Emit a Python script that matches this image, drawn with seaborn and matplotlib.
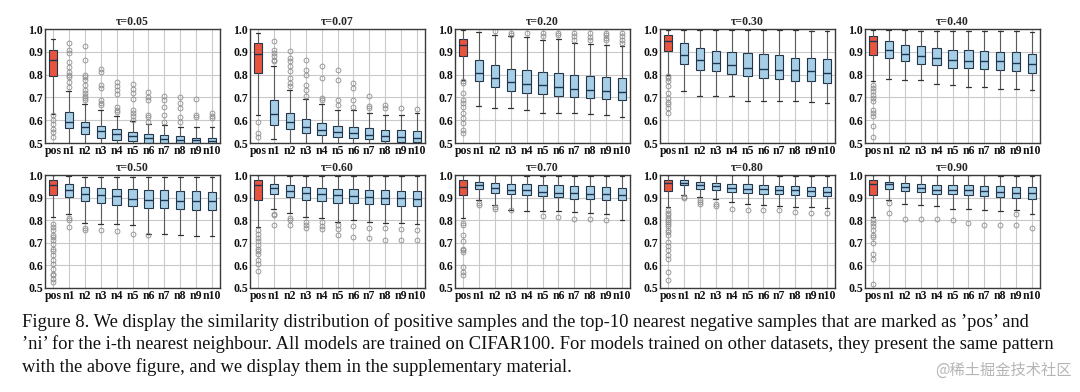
import matplotlib
matplotlib.use("Agg")
import matplotlib.pyplot as plt
import seaborn as sns

TAUS = ['0.05', '0.07', '0.20', '0.30', '0.40', '0.50', '0.60', '0.70', '0.80', '0.90']
LABELS = ['pos', 'n1', 'n2', 'n3', 'n4', 'n5', 'n6', 'n7', 'n8', 'n9', 'n10']

# per tau: one value per box (pos, n1 .. n10)
Q1 = [
    [0.794, 0.566, 0.538, 0.524, 0.515, 0.509, 0.501, 0.500, 0.498, 0.495, 0.493],
    [0.809, 0.579, 0.560, 0.542, 0.535, 0.525, 0.522, 0.516, 0.510, 0.506, 0.506],
    [0.883, 0.770, 0.745, 0.729, 0.718, 0.713, 0.704, 0.700, 0.696, 0.692, 0.688],
    [0.902, 0.846, 0.821, 0.814, 0.804, 0.795, 0.784, 0.780, 0.774, 0.771, 0.765],
    [0.887, 0.872, 0.858, 0.846, 0.840, 0.831, 0.828, 0.824, 0.818, 0.814, 0.809],
    [0.910, 0.903, 0.883, 0.876, 0.869, 0.863, 0.855, 0.853, 0.848, 0.847, 0.844],
    [0.888, 0.917, 0.903, 0.891, 0.885, 0.876, 0.876, 0.873, 0.870, 0.864, 0.863],
    [0.910, 0.937, 0.920, 0.914, 0.910, 0.906, 0.903, 0.895, 0.892, 0.891, 0.888],
    [0.928, 0.954, 0.940, 0.932, 0.925, 0.920, 0.917, 0.914, 0.912, 0.907, 0.906],
    [0.910, 0.940, 0.928, 0.925, 0.917, 0.914, 0.910, 0.906, 0.903, 0.900, 0.895],
]
MED = [
    [0.863, 0.590, 0.568, 0.553, 0.541, 0.529, 0.524, 0.519, 0.515, 0.512, 0.507],
    [0.891, 0.628, 0.591, 0.569, 0.557, 0.550, 0.543, 0.535, 0.531, 0.528, 0.521],
    [0.931, 0.809, 0.787, 0.767, 0.760, 0.754, 0.745, 0.739, 0.733, 0.730, 0.724],
    [0.946, 0.887, 0.862, 0.850, 0.842, 0.831, 0.824, 0.821, 0.818, 0.814, 0.809],
    [0.946, 0.909, 0.891, 0.880, 0.875, 0.865, 0.861, 0.861, 0.858, 0.850, 0.848],
    [0.957, 0.932, 0.917, 0.910, 0.906, 0.895, 0.891, 0.888, 0.885, 0.885, 0.883],
    [0.954, 0.942, 0.928, 0.920, 0.914, 0.910, 0.907, 0.903, 0.900, 0.897, 0.894],
    [0.947, 0.957, 0.942, 0.935, 0.932, 0.925, 0.922, 0.920, 0.917, 0.914, 0.910],
    [0.965, 0.966, 0.957, 0.950, 0.944, 0.940, 0.937, 0.935, 0.932, 0.929, 0.925],
    [0.962, 0.959, 0.947, 0.942, 0.935, 0.935, 0.932, 0.927, 0.925, 0.922, 0.922],
]
Q3 = [
    [0.909, 0.634, 0.590, 0.574, 0.560, 0.547, 0.541, 0.534, 0.529, 0.524, 0.521],
    [0.938, 0.689, 0.630, 0.606, 0.589, 0.575, 0.569, 0.566, 0.558, 0.555, 0.553],
    [0.956, 0.865, 0.840, 0.826, 0.818, 0.811, 0.808, 0.800, 0.795, 0.789, 0.784],
    [0.972, 0.938, 0.916, 0.902, 0.897, 0.894, 0.890, 0.884, 0.875, 0.872, 0.868],
    [0.971, 0.946, 0.931, 0.924, 0.916, 0.909, 0.906, 0.902, 0.899, 0.897, 0.891],
    [0.976, 0.960, 0.947, 0.944, 0.940, 0.937, 0.935, 0.932, 0.929, 0.928, 0.925],
    [0.979, 0.962, 0.954, 0.947, 0.942, 0.940, 0.937, 0.935, 0.932, 0.929, 0.928],
    [0.976, 0.969, 0.965, 0.962, 0.959, 0.957, 0.954, 0.951, 0.950, 0.947, 0.944],
    [0.979, 0.979, 0.969, 0.965, 0.959, 0.959, 0.954, 0.951, 0.951, 0.947, 0.947],
    [0.979, 0.969, 0.965, 0.962, 0.957, 0.957, 0.954, 0.951, 0.950, 0.947, 0.947],
]
WLO = [
    [0.629, 0.470, 0.470, 0.470, 0.470, 0.470, 0.470, 0.470, 0.470, 0.470, 0.470],
    [0.623, 0.516, 0.490, 0.480, 0.480, 0.480, 0.480, 0.480, 0.480, 0.480, 0.480],
    [0.775, 0.663, 0.652, 0.652, 0.645, 0.633, 0.630, 0.630, 0.626, 0.623, 0.616],
    [0.800, 0.726, 0.707, 0.704, 0.704, 0.686, 0.683, 0.683, 0.683, 0.679, 0.675],
    [0.773, 0.782, 0.777, 0.777, 0.760, 0.754, 0.745, 0.745, 0.736, 0.736, 0.733],
    [0.814, 0.829, 0.789, 0.785, 0.785, 0.777, 0.740, 0.737, 0.733, 0.730, 0.729],
    [0.770, 0.851, 0.832, 0.814, 0.811, 0.792, 0.800, 0.792, 0.788, 0.789, 0.785],
    [0.811, 0.888, 0.866, 0.844, 0.841, 0.841, 0.839, 0.836, 0.832, 0.826, 0.802],
    [0.858, 0.913, 0.903, 0.892, 0.881, 0.870, 0.866, 0.863, 0.858, 0.858, 0.854],
    [0.814, 0.891, 0.873, 0.866, 0.861, 0.851, 0.851, 0.847, 0.841, 0.844, 0.829],
]
WHI = [
    [0.956, 0.729, 0.670, 0.644, 0.619, 0.597, 0.585, 0.578, 0.571, 0.569, 0.569],
    [0.982, 0.836, 0.733, 0.692, 0.672, 0.645, 0.645, 0.633, 0.623, 0.623, 0.630],
    [0.994, 0.987, 0.975, 0.968, 0.965, 0.953, 0.956, 0.938, 0.935, 0.931, 0.927],
    [0.994, 0.994, 0.994, 0.994, 0.994, 0.994, 0.994, 0.994, 0.994, 0.993, 0.993],
    [0.994, 0.994, 0.994, 0.993, 0.993, 0.992, 0.991, 0.990, 0.990, 0.990, 0.988],
    [0.999, 0.994, 0.993, 0.993, 0.993, 0.992, 0.992, 0.991, 0.991, 0.990, 0.990],
    [0.999, 0.998, 0.997, 0.997, 0.996, 0.996, 0.996, 0.995, 0.995, 0.995, 0.994],
    [0.999, 0.998, 0.998, 0.998, 0.997, 0.997, 0.997, 0.997, 0.996, 0.996, 0.996],
    [0.999, 0.999, 0.998, 0.998, 0.998, 0.998, 0.998, 0.997, 0.997, 0.997, 0.997],
    [0.999, 0.999, 0.998, 0.998, 0.998, 0.998, 0.998, 0.998, 0.997, 0.997, 0.997],
]
FLIERS = [
    [[0.622, 0.600, 0.585, 0.563, 0.549, 0.527],
     [0.938, 0.909, 0.894, 0.857, 0.835, 0.813, 0.799, 0.788, 0.769, 0.747],
     [0.924, 0.865, 0.800, 0.788, 0.776, 0.754, 0.732, 0.718, 0.706, 0.697, 0.688],
     [0.825, 0.813, 0.754, 0.740, 0.688, 0.674, 0.666],
     [0.769, 0.750, 0.732, 0.713, 0.660, 0.644, 0.637],
     [0.759, 0.735, 0.718, 0.693, 0.644, 0.632, 0.618, 0.600],
     [0.725, 0.703, 0.688, 0.625, 0.612, 0.593],
     [0.706, 0.688, 0.660, 0.625, 0.593],
     [0.700, 0.674, 0.653, 0.615, 0.590],
     [0.691, 0.625, 0.612],
     [0.632, 0.618, 0.610]],
    [[0.594, 0.543, 0.528],
     [0.946, 0.909, 0.894, 0.880, 0.865, 0.858],
     [0.902, 0.872, 0.858, 0.836, 0.814, 0.785, 0.762, 0.748],
     [0.865, 0.821, 0.799, 0.755, 0.733, 0.704],
     [0.836, 0.785, 0.697, 0.689],
     [0.821, 0.777, 0.689, 0.667],
     [0.762, 0.740, 0.689, 0.660],
     [0.707, 0.663, 0.652],
     [0.667, 0.652],
     [0.652],
     [0.648]],
    [[0.770, 0.762, 0.718, 0.689, 0.674, 0.660, 0.630, 0.608, 0.587, 0.557, 0.543],
     [],
     [0.990],
     [0.982, 0.975],
     [0.982],
     [0.982, 0.968],
     [0.982, 0.975],
     [0.982, 0.968, 0.953],
     [0.982, 0.965, 0.953],
     [0.982, 0.972, 0.960, 0.953],
     [0.982, 0.968, 0.953, 0.940]],
    [[0.795, 0.785, 0.770, 0.748, 0.721, 0.696, 0.682, 0.672, 0.652, 0.630],
     [], [], [], [], [], [], [], [], [], []],
    [[0.755, 0.740, 0.726, 0.711, 0.696, 0.685, 0.645, 0.630, 0.620, 0.575, 0.528],
     [], [], [], [], [], [], [], [], [], []],
    [[0.785, 0.770, 0.755, 0.733, 0.726, 0.711, 0.693, 0.674, 0.662, 0.645,
      0.622, 0.608, 0.586, 0.563, 0.556, 0.541, 0.526],
     [0.811, 0.802, 0.770],
     [0.767, 0.758],
     [0.755],
     [0.754],
     [0.740],
     [0.736],
     [], [], [], []],
    [[0.755, 0.740, 0.723, 0.708, 0.689, 0.674, 0.664, 0.652, 0.622, 0.608, 0.574],
     [0.829, 0.822, 0.777],
     [0.811, 0.802, 0.777],
     [0.792, 0.777, 0.767],
     [0.792, 0.773, 0.763],
     [0.777, 0.763, 0.736],
     [0.773, 0.726],
     [0.767, 0.723],
     [0.767, 0.714],
     [0.763, 0.711],
     [0.758, 0.711]],
    [[0.788, 0.777, 0.733, 0.708, 0.674, 0.667, 0.659, 0.593, 0.571, 0.559],
     [0.876, 0.866],
     [0.858, 0.851],
     [0.844],
     [],
     [0.817],
     [0.814],
     [0.807],
     [0.804],
     [0.799],
     []],
    [[0.844, 0.832, 0.822, 0.811, 0.800, 0.792, 0.785, 0.773, 0.755, 0.748,
      0.733, 0.704, 0.686, 0.667, 0.645, 0.630, 0.571, 0.534],
     [0.903, 0.898],
     [0.888, 0.881, 0.870],
     [0.873, 0.863],
     [0.851],
     [0.847],
     [0.844],
     [0.844],
     [0.836],
     [0.832],
     [0.832]],
    [[0.800, 0.788, 0.773, 0.755, 0.733, 0.726, 0.699, 0.652, 0.630, 0.519],
     [0.876, 0.832],
     [0.807],
     [0.807],
     [0.807],
     [0.802],
     [0.788],
     [0.780],
     [0.780],
     [0.829, 0.777],
     [0.767]],
]

CAPTION = [
    "Figure 8. We display the similarity distribution of positive samples and the top-10 nearest negative samples that are marked as \u2019pos\u2019 and",
    "\u2019ni\u2019 for the i-th nearest neighbour. All models are trained on CIFAR100. For models trained on other datasets, they present the same pattern",
    "with the above figure, and we display them in the supplementary material.",
]

sns.set_theme(style='whitegrid')
plt.rcParams['font.family'] = ['Liberation Serif', 'DejaVu Serif']
plt.rcParams['font.weight'] = 'bold'

RED = '#e8553f'
BLUE = '#a6cfe7'

fig = plt.figure(figsize=(10.8, 3.92), dpi=100)
W, H = 1080.0, 392.0
row_top = [29, 175]
row_bot = [143, 288]

for k, tau in enumerate(TAUS):
    row, col = divmod(k, 5)
    left = 45 + 205 * col
    ax = fig.add_axes([left / W, 1 - row_bot[row] / H, 175 / W, (row_bot[row] - row_top[row]) / H])
    stats = []
    for j, lab in enumerate(LABELS):
        stats.append(dict(label=lab, whislo=WLO[k][j], q1=Q1[k][j], med=MED[k][j],
                          q3=Q3[k][j], whishi=WHI[k][j], fliers=FLIERS[k][j]))
    bp = ax.bxp(stats, patch_artist=True, widths=0.52, capwidths=0.3,
                boxprops=dict(edgecolor='#233447', linewidth=0.8),
                medianprops=dict(color='#1d3550', linewidth=1.0),
                whiskerprops=dict(color='#5a5a5a', linewidth=0.8),
                capprops=dict(color='#333333', linewidth=0.9),
                flierprops=dict(marker='o', markerfacecolor='none', markeredgecolor='#8c8c8c',
                                markersize=3.5, markeredgewidth=0.6))
    for j, box in enumerate(bp['boxes']):
        box.set_facecolor(RED if j == 0 else BLUE)
    ax.set_xlim(0.5, 11.5)
    ax.set_ylim(0.5, 1.0)
    ax.set_yticks([0.5, 0.6, 0.7, 0.8, 0.9, 1.0])
    ax.set_yticklabels(['0.5', '0.6', '0.7', '0.8', '0.9', '1.0'])
    ax.grid(True, color='#c9c9c9', linewidth=0.8)
    ax.set_axisbelow(True)
    for s in ax.spines.values():
        s.set_color('#3a3a3a')
        s.set_linewidth(1.0)
    ax.tick_params(axis='both', labelsize=8.5, length=0, pad=1.5, colors='#111111')
    ax.set_title('\u03c4=' + tau, fontsize=8.5, fontweight='bold', pad=3)

y0 = 322
for i, line in enumerate(CAPTION):
    fig.text(22 / W, 1 - (y0 + 22.5 * i) / H, line, fontsize=13.3, fontweight='normal',
             va='center', ha='left', color='#111111')

fig.text(1072 / W, 1 - 370 / H, '@稀土掘金技术社区', fontsize=11, color='#b5b5b5',
         ha='right', va='center', fontweight='normal',
         family=['Noto Sans CJK SC', 'DejaVu Sans'])

fig.savefig('out.png', dpi=100)
